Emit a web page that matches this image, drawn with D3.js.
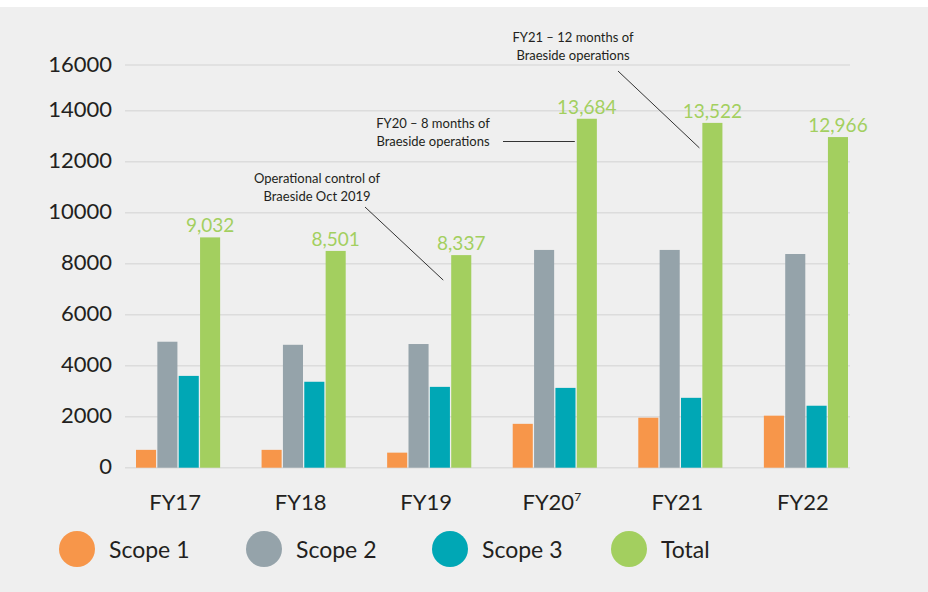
<!DOCTYPE html>
<html>
<head>
<meta charset="utf-8">
<script src="https://cdn.jsdelivr.net/npm/d3@7"></script>
<style>
  html, body { margin: 0; padding: 0; background: #fff; }
  svg { display: block; font-family: Lato, "Noto Sans", sans-serif; }
</style>
</head>
<body>
<div id="chart"></div>
<script>
// data
const years = ['FY17', 'FY18', 'FY19', 'FY20', 'FY21', 'FY22'];
const seriesNames = ['Scope 1', 'Scope 2', 'Scope 3', 'Total'];
const scope1 = [700, 700, 590, 1720, 1960, 2040];
const scope2 = [4940, 4820, 4850, 8540, 8540, 8380];
const scope3 = [3600, 3370, 3170, 3130, 2740, 2430];
const total = [9032, 8501, 8337, 13684, 13522, 12966];
const yTicks = [0, 2000, 4000, 6000, 8000, 10000, 12000, 14000, 16000];
const colors = ['#f7964a', '#95a3aa', '#00a7b5', '#a3cf5f'];

const notes = [
  { lines: ['Operational control of', 'Braeside Oct 2019'], year: 'FY19', value: 8337 },
  { lines: ['FY20 – 8 months of', 'Braeside operations'], year: 'FY20', value: 13684 },
  { lines: ['FY21 – 12 months of', 'Braeside operations'], year: 'FY21', value: 13522 }
];

const width = 928, height = 592;
const series = [scope1, scope2, scope3, total];

const svg = d3.select('#chart').append('svg')
  .attr('width', width).attr('height', height);

// background panel
svg.append('rect').attr('x', 0).attr('y', 7).attr('width', width).attr('height', height - 7)
  .attr('fill', '#efefef');

// scales (the top gap of the source axis is shorter, so piecewise)
const y = d3.scaleLinear().domain([0, 14000, 16000]).range([467.7, 110.7, 65]);
const x = d3.scaleBand().domain(years).range([136, 848]).paddingInner(0.33).paddingOuter(0);
const xi = d3.scaleBand().domain(d3.range(4)).range([0, x.bandwidth()]).paddingInner(0.06);

// gridlines
svg.append('g').selectAll('line').data(yTicks).join('line')
  .attr('x1', 125).attr('x2', 850)
  .attr('y1', d => y(d)).attr('y2', d => y(d))
  .attr('stroke', '#dcdcdc').attr('stroke-width', 1.5);

// y labels
svg.append('g').selectAll('text').data(yTicks).join('text')
  .attr('x', 112).attr('y', d => y(d) - 1)
  .attr('dy', '0.35em')
  .attr('text-anchor', 'end')
  .attr('font-size', 22)
  .attr('fill', '#231f20')
  .text(d => d);

// bars
const groups = svg.append('g').selectAll('g').data(years).join('g')
  .attr('transform', d => `translate(${x(d)},0)`);

groups.selectAll('rect')
  .data((d, i) => series.map((s, k) => ({ k, v: s[i] })))
  .join('rect')
  .attr('x', d => xi(d.k))
  .attr('width', xi.bandwidth())
  .attr('y', d => y(d.v))
  .attr('height', d => y(0) - y(d.v))
  .attr('fill', d => colors[d.k]);

// total value labels
groups.append('text')
  .attr('x', xi(3) + xi.bandwidth() / 2)
  .attr('y', (d, i) => y(total[i]) - 5)
  .attr('text-anchor', 'middle')
  .attr('font-size', 19)
  .attr('fill', '#a3cf5f')
  .text((d, i) => d3.format(',')(total[i]));

// x labels
const xl = svg.append('g').selectAll('text').data(years).join('text')
  .attr('x', d => x(d) + x.bandwidth() / 2 - 3)
  .attr('y', 510)
  .attr('text-anchor', 'middle')
  .attr('font-size', 22)
  .attr('fill', '#231f20');
xl.append('tspan').text(d => d);
xl.filter(d => d === 'FY20').append('tspan')
  .attr('font-size', 12).attr('dy', -9).text('7');

// annotations
const greenX = yr => x(yr) + xi(3) + xi.bandwidth() / 2;
const noteText = (cx, y0, lines) => {
  const t = svg.append('text').attr('text-anchor', 'middle')
    .attr('font-size', 13).attr('fill', '#231f20');
  lines.forEach((l, i) => t.append('tspan').attr('x', cx).attr('y', y0 + i * 17.5).text(l));
};
noteText(317, 183, notes[0].lines);
svg.append('line').attr('x1', 365).attr('y1', 207)
  .attr('x2', greenX('FY19') - 18).attr('y2', y(notes[0].value) + 25)
  .attr('stroke', '#333').attr('stroke-width', 1);

noteText(433, 128, notes[1].lines);
svg.append('line').attr('x1', 503).attr('y1', 141.5)
  .attr('x2', greenX('FY20') - 12).attr('y2', 141.5)
  .attr('stroke', '#333').attr('stroke-width', 1);

noteText(573, 42, notes[2].lines);
svg.append('line').attr('x1', 618).attr('y1', 71)
  .attr('x2', greenX('FY21') - 13).attr('y2', y(notes[2].value) + 25)
  .attr('stroke', '#333').attr('stroke-width', 1);

// legend
const legendX = [77, 264, 450, 629];
const lg = svg.append('g').selectAll('g').data(seriesNames).join('g')
  .attr('transform', (d, i) => `translate(${legendX[i]},549)`);
lg.append('circle').attr('r', 18).attr('fill', (d, i) => colors[i]);
lg.append('text').attr('x', 32).attr('dy', '0.38em')
  .attr('font-size', 23).attr('fill', '#231f20').text(d => d);
</script>
</body>
</html>
